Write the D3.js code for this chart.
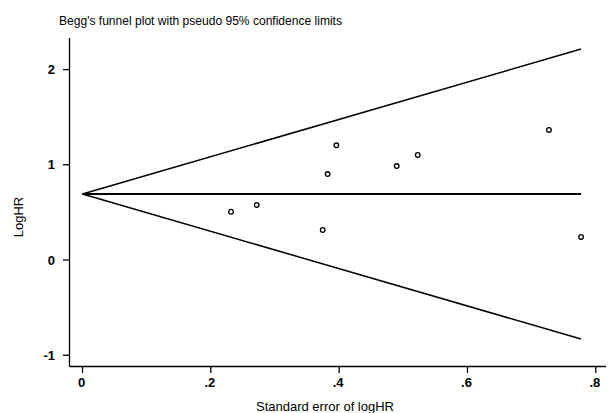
<!DOCTYPE html>
<html>
<head>
<meta charset="utf-8">
<script src="https://cdn.jsdelivr.net/npm/d3@7"></script>
<style>
  body { margin: 0; background: #fff; }
  text { font-family: "Liberation Sans", Arial, sans-serif; fill: #000; }
</style>
</head>
<body>
<div id="chart"></div>
<script>
var width = 609,
    height = 413;

// ******* data ******* //
var seValues    = [0.2315, 0.2715, 0.3744, 0.382, 0.3956, 0.4897, 0.5225, 0.727, 0.777];
var logHRValues = [0.507, 0.578, 0.315, 0.903, 1.205, 0.987, 1.103, 1.366, 0.242];
var pooledLogHR = 0.693;
var xTicks = [0, 0.2, 0.4, 0.6, 0.8];
var xTickLabels = ["0", ".2", ".4", ".6", ".8"];
var yTicks = [-1, 0, 1, 2];

var svg = d3.select("#chart")
    .append("svg")
    .attr("width", width)
    .attr("height", height);

var x = d3.scaleLinear().domain([0, 0.8]).range([82.5, 595.8]);
var y = d3.scaleLinear().domain([-1, 2]).range([355.2, 69.6]);

var axisX = 69.5, axisY = 366.5;

// title
svg.append("text")
    .attr("x", 59)
    .attr("y", 25)
    .attr("font-size", 12)
    .attr("textLength", 283)
    .attr("lengthAdjust", "spacingAndGlyphs")
    .text("Begg's funnel plot with pseudo 95% confidence limits");

// ******** axes ******** //
svg.append("line")
    .attr("x1", axisX).attr("x2", axisX)
    .attr("y1", 38).attr("y2", axisY)
    .attr("stroke", "#000").attr("stroke-width", 1.3);

svg.append("line")
    .attr("x1", axisX).attr("x2", 606)
    .attr("y1", axisY).attr("y2", axisY)
    .attr("stroke", "#000").attr("stroke-width", 1.3);

var yg = svg.append("g").attr("class", "y-ticks");
yg.selectAll("line").data(yTicks).enter().append("line")
    .attr("x1", axisX - 6.5).attr("x2", axisX)
    .attr("y1", function(d) { return y(d); })
    .attr("y2", function(d) { return y(d); })
    .attr("stroke", "#000").attr("stroke-width", 1.3);
yg.selectAll("text").data(yTicks).enter().append("text")
    .attr("x", 55)
    .attr("y", function(d) { return y(d) + 4.5; })
    .attr("text-anchor", "end")
    .attr("font-size", 13)
    .attr("font-weight", "bold")
    .text(function(d) { return d; });

var xg = svg.append("g").attr("class", "x-ticks");
xg.selectAll("line").data(xTicks).enter().append("line")
    .attr("x1", function(d) { return x(d); })
    .attr("x2", function(d) { return x(d); })
    .attr("y1", axisY).attr("y2", axisY + 6.5)
    .attr("stroke", "#000").attr("stroke-width", 1.3);
xg.selectAll("text").data(xTicks).enter().append("text")
    .attr("x", function(d) { return x(d) - 1; })
    .attr("y", 386.5)
    .attr("text-anchor", "middle")
    .attr("font-size", 13)
    .attr("font-weight", "bold")
    .text(function(d, i) { return xTickLabels[i]; });

svg.append("text")
    .attr("x", 325)
    .attr("y", 411)
    .attr("text-anchor", "middle")
    .attr("font-size", 13)
    .text("Standard error of logHR");

svg.append("text")
    .attr("transform", "translate(23,217) rotate(-90)")
    .attr("text-anchor", "middle")
    .attr("font-size", 13)
    .text("LogHR");

// ******** funnel ******** //
var maxSE = d3.max(seValues);
var line = d3.line()
    .x(function(d) { return x(d[0]); })
    .y(function(d) { return y(d[1]); });

svg.append("path")
    .attr("d", line([[0, pooledLogHR], [maxSE, pooledLogHR + 1.96 * maxSE]]))
    .attr("fill", "none").attr("stroke", "#000").attr("stroke-width", 1.5);
svg.append("path")
    .attr("d", line([[0, pooledLogHR], [maxSE, pooledLogHR - 1.96 * maxSE]]))
    .attr("fill", "none").attr("stroke", "#000").attr("stroke-width", 1.5);
svg.append("path")
    .attr("d", line([[0, pooledLogHR], [maxSE, pooledLogHR]]))
    .attr("fill", "none").attr("stroke", "#000").attr("stroke-width", 2);

// ******** studies ******** //
svg.append("g").selectAll("circle")
    .data(seValues)
    .enter().append("circle")
    .attr("cx", function(d) { return x(d); })
    .attr("cy", function(d, i) { return y(logHRValues[i]); })
    .attr("r", 2.3)
    .attr("fill", "#fff")
    .attr("stroke", "#000")
    .attr("stroke-width", 1.3);
</script>
</body>
</html>
